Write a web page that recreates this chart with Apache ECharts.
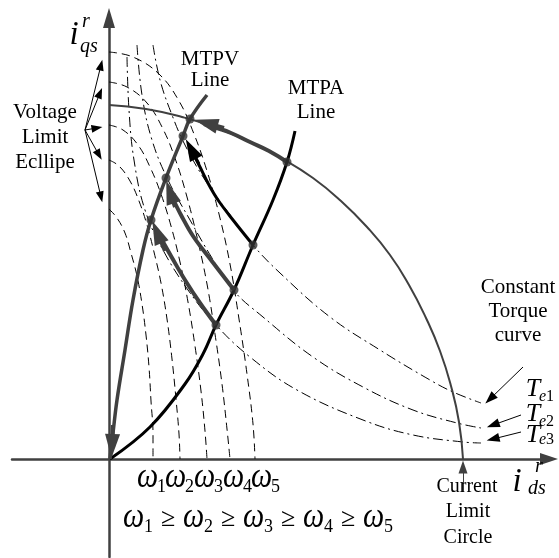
<!DOCTYPE html>
<html><head><meta charset="utf-8">
<script src="https://cdn.jsdelivr.net/npm/echarts@6/dist/echarts.min.js"></script>
<style>html,body{margin:0;padding:0;background:#fff;}#c{width:559px;height:558px;}</style>
</head><body><div id="c"></div>
<script>
// ---- data (units: id to the right of origin, iq upward) ----
const currentLimitCircle = [[0,354],[37,350],[73,342],[108,331],[141,317],[174,300],[204,281],[232,258],[258,232],[281,204],[300,174],[317,141],[331,108],[342,73],[350,37],[354,0]];
const circlePathSegment = [[178,297],[160,308],[141,317],[122,326],[108,331],[95,335]];
const mtpaLine = [[1,0],[41,32],[76,75],[94,105],[107,134],[125,169],[144,214],[164,259],[178,297],[186,328]];
const mtpvLine = [[1,0],[4,26],[8,59],[16,109],[24,159],[34,209],[42,239],[57,281],[74,323],[81,340],[98,364]];
const path1 = [[107,134],[91,156],[76,179],[62,203],[53,219]];
const path2 = [[125,169],[102,199],[84,223],[72,244],[64,260]];
const path3 = [[144,214],[124,239],[109,259],[100,274],[91,292],[86,302]];
const grayArrowHeads = [[[56,208],[48,227]],[[66,252],[61,267]],[[115,331],[97,336]],[[4,34],[3,13]]];
const blackArrowHeads = [[[90,295],[82,310]]];
const mtpaPoints = [[107,134],[125,169],[144,214],[178,297]];
const mtpvPoints = [[42,239],[57,281],[74,323],[81,340]];
const ellipseW5 = [[0,407],[24,402],[50,385],[70,358],[85,325],[98,288],[110,245],[121,195],[130,140],[138,85],[144,35],[146,0]];
const ellipseW4 = [[0,377],[18,372],[38,356],[54,330],[67,298],[78,262],[88,222],[98,175],[106,125],[113,75],[118,30],[121,0]];
const ellipseW3 = [[0,334],[14,329],[29,314],[41,292],[52,265],[62,233],[71,197],[79,157],[86,113],[92,68],[96,28],[98,0]];
const ellipseW2 = [[0,299],[10,293],[21,278],[30,258],[38,234],[45,207],[52,176],[58,140],[63,100],[67,60],[70,25],[71,0]];
const ellipseW1 = [[0,250],[8,241],[16,226],[22,206],[28,183],[33,155],[37,124],[40,92],[42,58],[44,25],[44,0]];
const torqueTe1 = [[44,414],[51,379],[63,344],[76,314],[96,279],[119,247],[144,214],[171,186],[221,142],[271,109],[321,79],[344,67],[372,56]];
const torqueTe2 = [[28,414],[33,364],[43,319],[59,279],[81,239],[103,201],[124,169],[154,142],[204,102],[254,72],[304,49],[348,36],[372,31]];
const torqueTe3 = [[18,402],[20,349],[25,299],[36,249],[54,209],[79,169],[107,134],[141,102],[188,69],[254,39],[304,24],[354,17],[372,16]];
const voltageLabelArrows = [[[-24,329],[-8,394]],[[-24,329],[-9,366]],[[-24,329],[-12,331]],[[-24,329],[-10,304]],[[-24,329],[-8,262]]];
const torqueLabelArrows = [[[414,92],[381,60]],[[412,44],[384,34]],[[412,27],[384,20]]];
const currentLabelArrow = [[[354,-33],[354,-8]]];
const omegaLabels = ['1','2','3','4','5'];

// ---- chart ----
const GRAY = '#404040';
const chart = echarts.init(document.getElementById('c'), null, {renderer:'canvas'});
function curve(data, color, width, type, smooth, z){
  return {type:'line', data, showSymbol:false, symbol:'none', smooth: smooth==null?0.4:smooth, clip:false,
    lineStyle:{color, width, type: type||'solid'}, z: z||2, silent:true};
}
function arrows(list, color, width, size, z){
  return {type:'lines', coordinateSystem:'cartesian2d', polyline:false, clip:false,
    symbol:['none','triangle'], symbolSize:[1,size], z: z||5, silent:true,
    lineStyle:{color, width, opacity:1, curveness:0},
    data: list.map(c=>({coords:c}))};
}
const serif = 'Liberation Serif, Times New Roman, serif';
const texts = [];
function t(text, x, y, size, opts){
  opts = opts||{};
  texts.push({type:'text', x, y, z:100, silent:true, scaleY: opts.sy||1,
    style:{text, fill:'#000', font:(opts.italic?'italic ':'')+size+'px '+serif,
      align: opts.align||'center', verticalAlign:'middle'}});
}
// axis labels
t('i',74,35,33,{italic:true}); t('r',86,22,20,{italic:true}); t('qs',89,47,20,{italic:true});
t('i',517,482,33,{italic:true}); t('r',539,467,20,{italic:true}); t('ds',537,489,20,{italic:true});
t('MTPV',210,59,21); t('Line',210,80,21);
t('MTPA',316,88,21); t('Line',316,112,21);
t('Voltage',45,112,21); t('Limit',45,137,21); t('Ecllipe',45,162,21);
t('Constant',518,287,21); t('Torque',518,311,21); t('curve',518,335,21);
t('Current',467,487,20); t('Limit',468,512,20); t('Circle',468,538,20);
// torque names
[[389,397],[414,422],[435,440]].forEach((p,i)=>{
  t('T',533,p[0],26,{italic:true});
  texts.push({type:'text', x:539, y:p[1], z:100, silent:true,
    style:{text:'{e|e}{n|'+(i+1)+'}', fill:'#000', align:'left', verticalAlign:'middle',
      rich:{e:{font:'italic 16px '+serif}, n:{font:'16px '+serif}}}});
});
// omega row 1
const w1x=[137,165,194,223,251], d1x=[157,185,214,243,271];
omegaLabels.forEach((n,i)=>{ t('ω',w1x[i],478,30,{italic:true,align:'left',sy:1.2}); t(n,d1x[i],487,18,{align:'left'}); });
// omega row 2
const w2x=[123,183,243,303,363], d2x=[144,204,264,324,384], gx=[161,221,281,341];
omegaLabels.forEach((n,i)=>{ t('ω',w2x[i],518,30,{italic:true,align:'left',sy:1.2}); t(n,d2x[i],527,18,{align:'left'}); });
gx.forEach(x=>t('≥',x,519,26,{align:'left'}));

const option = {
  animation:false,
  backgroundColor:'#fff',
  grid:{left:12, right:10, top:18, bottom:1, containLabel:false},
  xAxis:{type:'value', min:-97, max:440, axisLabel:{show:false}, axisTick:{show:false}, splitLine:{show:false},
    axisLine:{onZero:true, lineStyle:{color:GRAY, width:2.5}, symbol:['none','triangle'], symbolSize:[12,18]}},
  yAxis:{type:'value', min:-98, max:441, axisLabel:{show:false}, axisTick:{show:false}, splitLine:{show:false},
    axisLine:{onZero:true, lineStyle:{color:GRAY, width:2.5}, symbol:['none','triangle'], symbolSize:[12,20]}},
  series:[
    curve(ellipseW1,'#000',1,[8,5],0.4,1),
    curve(ellipseW2,'#000',1,[8,5],0.4,1),
    curve(ellipseW3,'#000',1,[8,5],0.4,1),
    curve(ellipseW4,'#000',1,[8,5],0.4,1),
    curve(ellipseW5,'#000',1,[8,5],0.4,1),
    curve(torqueTe1,'#000',1,[10,4,2,4],0.4,1),
    curve(torqueTe2,'#000',1,[10,4,2,4],0.4,1),
    curve(torqueTe3,'#000',1,[10,4,2,4],0.4,1),
    curve(currentLimitCircle,GRAY,2,'solid',0.5,2),
    curve(circlePathSegment,GRAY,4,'solid',0.5,3),
    curve(mtpaLine,'#000',3,'solid',0.4,3),
    curve(mtpvLine,GRAY,3.5,'solid',0.4,3),
    curve(path1,GRAY,4,'solid',0.4,3),
    curve(path2,GRAY,4,'solid',0.4,3),
    curve(path3,'#000',3,'solid',0.4,3),
    arrows(grayArrowHeads,GRAY,4,[15,24],6),
    arrows(blackArrowHeads,'#000',3,[14,22],6),
    arrows(voltageLabelArrows,'#000',1,[8,11],6),
    arrows(torqueLabelArrows,'#000',1,[9,13],6),
    arrows(currentLabelArrow,GRAY,1,[9,13],6),
    {type:'scatter', data: mtpaPoints.concat(mtpvPoints), symbol:'circle', symbolSize:9, clip:false,
      itemStyle:{color:'#333'}, z:7, silent:true}
  ],
  graphic: texts
};
chart.setOption(option);
</script></body></html>
